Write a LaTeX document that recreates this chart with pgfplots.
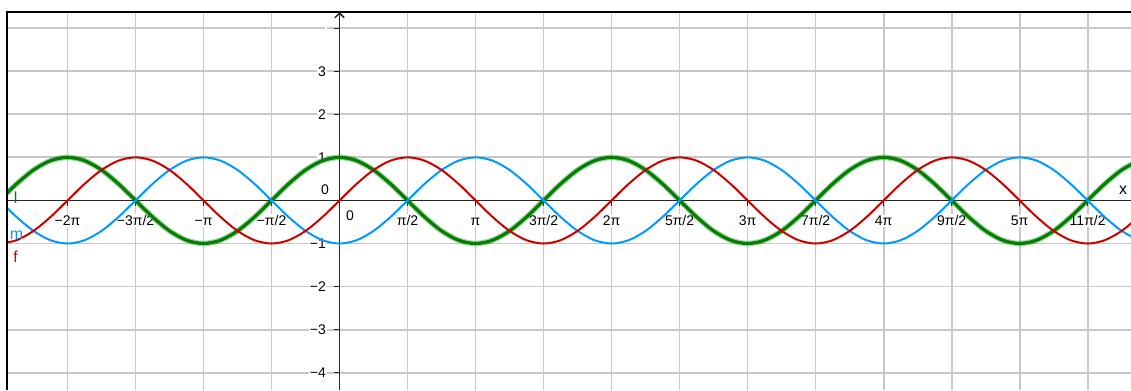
\documentclass[border=0pt]{standalone}
\usepackage{fontspec}
\setmainfont{Liberation Sans}
\usepackage{pgfplots}
\pgfplotsset{compat=1.18}
\usepackage{pgfplotstable}
\usetikzlibrary{arrows.meta}
\definecolor{ggred}{RGB}{204,0,0}
\definecolor{ggblue}{RGB}{0,153,255}
\definecolor{gggreen}{RGB}{0,128,0}
\definecolor{gggrid}{RGB}{200,200,200}

% f = sin x, l = cos x, m = -cos x, sampled every pi/8
\pgfplotstableread{
x f l m
-7.854 -1 0 0
-7.461 -0.9239 0.3827 -0.3827
-7.069 -0.7071 0.7071 -0.7071
-6.676 -0.3827 0.9239 -0.9239
-6.283 0 1 -1
-5.890 0.3827 0.9239 -0.9239
-5.498 0.7071 0.7071 -0.7071
-5.105 0.9239 0.3827 -0.3827
-4.712 1 0 0
-4.320 0.9239 -0.3827 0.3827
-3.927 0.7071 -0.7071 0.7071
-3.534 0.3827 -0.9239 0.9239
-3.142 0 -1 1
-2.749 -0.3827 -0.9239 0.9239
-2.356 -0.7071 -0.7071 0.7071
-1.963 -0.9239 -0.3827 0.3827
-1.571 -1 0 0
-1.178 -0.9239 0.3827 -0.3827
-0.785 -0.7071 0.7071 -0.7071
-0.393 -0.3827 0.9239 -0.9239
0 0 1 -1
0.393 0.3827 0.9239 -0.9239
0.785 0.7071 0.7071 -0.7071
1.178 0.9239 0.3827 -0.3827
1.571 1 0 0
1.963 0.9239 -0.3827 0.3827
2.356 0.7071 -0.7071 0.7071
2.749 0.3827 -0.9239 0.9239
3.142 0 -1 1
3.534 -0.3827 -0.9239 0.9239
3.927 -0.7071 -0.7071 0.7071
4.320 -0.9239 -0.3827 0.3827
4.712 -1 0 0
5.105 -0.9239 0.3827 -0.3827
5.498 -0.7071 0.7071 -0.7071
5.890 -0.3827 0.9239 -0.9239
6.283 0 1 -1
6.676 0.3827 0.9239 -0.9239
7.069 0.7071 0.7071 -0.7071
7.461 0.9239 0.3827 -0.3827
7.854 1 0 0
8.247 0.9239 -0.3827 0.3827
8.639 0.7071 -0.7071 0.7071
9.032 0.3827 -0.9239 0.9239
9.425 0 -1 1
9.817 -0.3827 -0.9239 0.9239
10.210 -0.7071 -0.7071 0.7071
10.603 -0.9239 -0.3827 0.3827
10.996 -1 0 0
11.388 -0.9239 0.3827 -0.3827
11.781 -0.7071 0.7071 -0.7071
12.174 -0.3827 0.9239 -0.9239
12.566 0 1 -1
12.959 0.3827 0.9239 -0.9239
13.352 0.7071 0.7071 -0.7071
13.744 0.9239 0.3827 -0.3827
14.137 1 0 0
14.530 0.9239 -0.3827 0.3827
14.923 0.7071 -0.7071 0.7071
15.315 0.3827 -0.9239 0.9239
15.708 0 -1 1
16.101 -0.3827 -0.9239 0.9239
16.493 -0.7071 -0.7071 0.7071
16.886 -0.9239 -0.3827 0.3827
17.279 -1 0 0
17.671 -0.9239 0.3827 -0.3827
18.064 -0.7071 0.7071 -0.7071
18.457 -0.3827 0.9239 -0.9239
}\trig

\begin{document}
\begin{tikzpicture}[font=\fontsize{10.5}{12}\selectfont]
  \begin{axis}[
      set layers,
      scale only axis, width=843pt, height=283.5pt,
      xmin=-7.681, xmax=18.28, ymin=-4.40, ymax=4.374,
      axis lines=middle,
      axis line style={black!85, line width=1.1pt},
      x axis line style={-},
      y axis line style={-{Straight Barb[length=3.5pt,width=7pt]}},
      xtick={-6.2832,-4.7124,-3.1416,-1.5708,0,1.5708,3.1416,4.7124,6.2832,7.8540,9.4248,10.9956,12.5664,14.1372,15.7080,17.2788},
      xticklabels={−2π,−3π/2,−π,−π/2,,π/2,π,3π/2,2π,5π/2,3π,7π/2,4π,9π/2,5π,11π/2},
      ytick={-4,-3,-2,-1,0,1,2,3,4},
      yticklabels={−4,−3,−2,−1,,1,2,3,},
      grid=major,
      major grid style={gggrid, line width=1.3pt},
      tick style={black!85, line width=0.8pt},
      major tick length=4pt, tick align=outside,
      xticklabel style={anchor=base, yshift=-15pt, fill=white, inner sep=1pt},
      yticklabel style={anchor=east, xshift=-5pt, fill=white, inner sep=1pt},
      every axis plot/.append style={mark=none, smooth},
    ]
    \coordinate (sw) at (rel axis cs:0,0);
    \coordinate (ne) at (rel axis cs:1,1);

    \addplot[gggreen, opacity=0.35, line width=4.2pt] table[x=x, y=l] {\trig};
    \addplot[gggreen, line width=2.4pt] table[x=x, y=l] {\trig};
    \addplot[ggblue, line width=1.5pt] table[x=x, y=m] {\trig};
    \addplot[ggred, line width=1.5pt] table[x=x, y=f] {\trig};

    \node at (axis cs:-0.335,0.244) {0};
    \node at (axis cs:0.243,-0.36) {0};
    \node[font=\fontsize{12}{14}\selectfont] at (axis cs:18.10,0.244) {x};
    \node[text=gggreen, font=\fontsize{12}{14}\selectfont] at (axis cs:-7.48,0.06) {l};
    \node[text=ggblue, font=\fontsize{12}{14}\selectfont] at (axis cs:-7.46,-0.80) {m};
    \node[text=ggred, font=\fontsize{12}{14}\selectfont] at (axis cs:-7.48,-1.31) {f};
  \end{axis}
  \draw[black, line width=1.5pt] (sw) -- (sw |- ne) -- (ne);
  \pgfresetboundingbox
  \path[use as bounding box] ([xshift=-5.25pt]sw) rectangle ([yshift=9pt]ne);
\end{tikzpicture}
\end{document}
